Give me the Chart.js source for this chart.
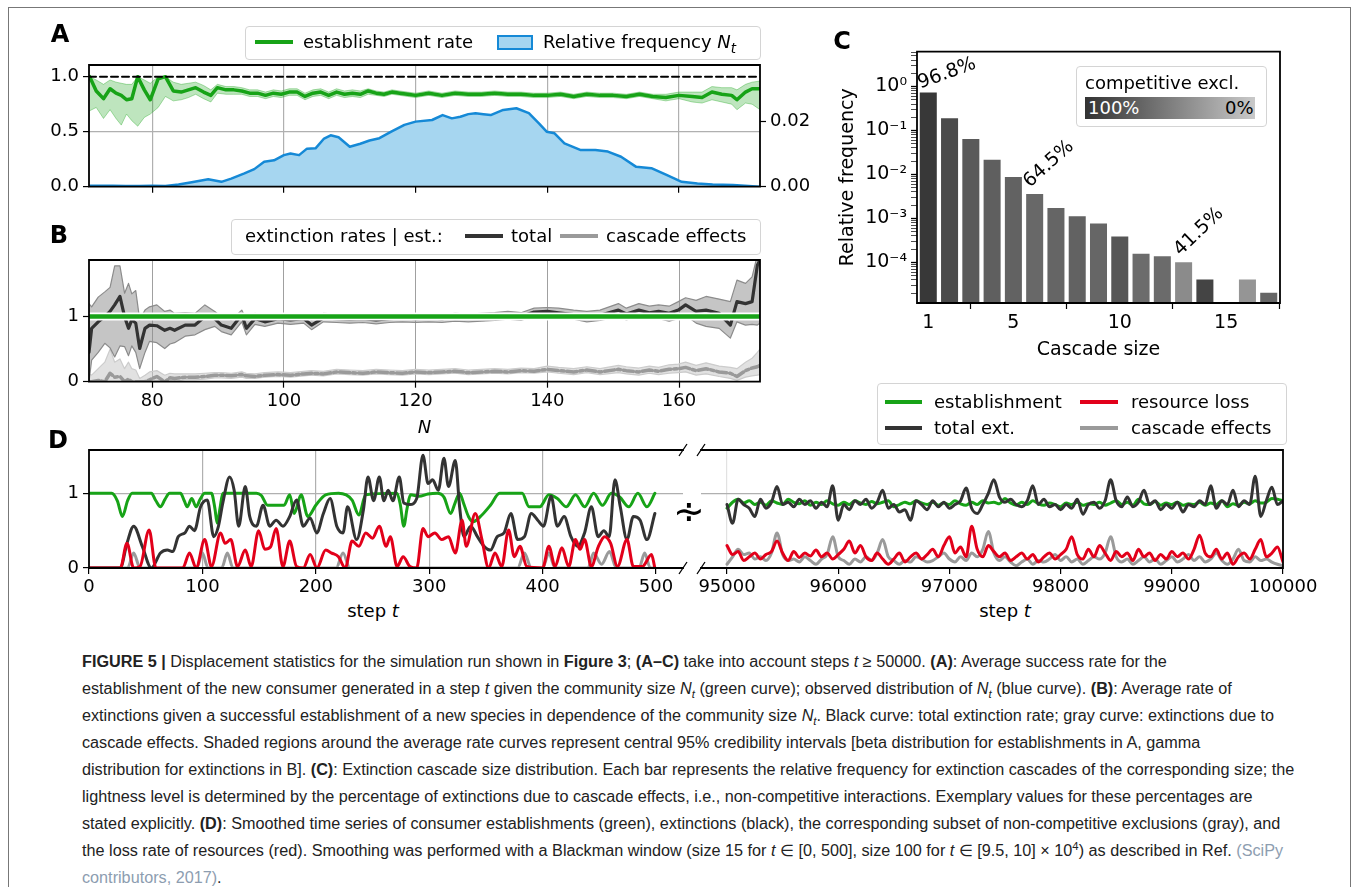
<!DOCTYPE html>
<html>
<head>
<meta charset="utf-8">
<title>Figure 5</title>
<script src="https://cdn.jsdelivr.net/npm/chart.js@4.4.1/dist/chart.umd.min.js"></script>
<style>
  html, body { margin: 0; padding: 0; background: #fff; }
  body { position: relative; width: 1355px; height: 887px; overflow: hidden; font-family: "DejaVu Sans", sans-serif; color: #000; }
  canvas { position: absolute; }
  .frame { position: absolute; left: 8px; top: 7px; width: 1341px; height: 900px; border: 1px solid #777; }
  .abs { position: absolute; white-space: nowrap; transform: translate(-50%, -50%); z-index: 3; }
  .tag { font-weight: bold; font-size: 24px; line-height: 24px; }
  .lg { position: absolute; border: 1px solid #d4d4d4; border-radius: 4px; background: rgba(255,255,255,0.85); z-index: 2; }
  .lg-txt { position: absolute; font-size: 18px; line-height: 22px; white-space: nowrap; z-index: 3; }
  .lg-line { position: absolute; z-index: 3; }
  #caption { position: absolute; left: 82px; top: 648px; font-family: "Liberation Sans", Arial, sans-serif; font-size: 16px; line-height: 27px; color: #222; }
  #caption div { white-space: nowrap; width: max-content; }
  #caption sub, #caption sup { font-size: 0.7em; line-height: 0; }
  .ref { color: #8d9db0; }
</style>
</head>
<body>
<div class="frame"></div>

<div id="caption">
<div><b>FIGURE 5 |</b> Displacement statistics for the simulation run shown in <b>Figure 3</b>; <b>(A–C)</b> take into account steps <i>t</i> ≥ 50000. <b>(A)</b>: Average success rate for the</div>
<div>establishment of the new consumer generated in a step <i>t</i> given the community size <i>N<sub>t</sub></i> (green curve); observed distribution of <i>N<sub>t</sub></i> (blue curve). <b>(B)</b>: Average rate of</div>
<div>extinctions given a successful establishment of a new species in dependence of the community size <i>N<sub>t</sub></i>. Black curve: total extinction rate; gray curve: extinctions due to</div>
<div>cascade effects. Shaded regions around the average rate curves represent central 95% credibility intervals [beta distribution for establishments in A, gamma</div>
<div>distribution for extinctions in B]. <b>(C)</b>: Extinction cascade size distribution. Each bar represents the relative frequency for extinction cascades of the corresponding size; the</div>
<div>lightness level is determined by the percentage of extinctions due to cascade effects, i.e., non-competitive interactions. Exemplary values for these percentages are</div>
<div>stated explicitly. <b>(D)</b>: Smoothed time series of consumer establishments (green), extinctions (black), the corresponding subset of non-competitive exclusions (gray), and</div>
<div>the loss rate of resources (red). Smoothing was performed with a Blackman window (size 15 for <i>t</i> ∈ [0, 500], size 100 for <i>t</i> ∈ [9.5, 10] × 10<sup>4</sup>) as described in Ref. <span class="ref">(SciPy</span></div>
<div><span class="ref">contributors, 2017)</span>.</div>
</div>

<script>
// ---------------- data ----------------

// panels A and B: community size N
const nMin = 70.4, nMax = 172.3;
const nTicks = [80, 100, 120, 140, 160];

// A: establishment rate (green) with 95% band
const estN = [70.5,71.5,72.6,73.6,74.5,75.3,76.1,76.9,77.8,78.8,
  79.7,80.9,82.0,83.2,84.4,85.5,86.6,87.8,88.9,89.9,
  91.2,92.4,93.6,94.8,96.0,97.2,98.4,99.6,100.8,102.0,
  103.2,104.4,105.6,106.8,108.0,109.2,110.4,111.6,112.8,114.0,
  115.2,116.4,117.6,118.8,120,122,124,126,128,130,
  132,134,136,138,140,142,144,146,148,150,
  152,154,156,158,160,162,163.5,165,166.5,168,
  168.8,170.1,171.1,172.3];
const estRate = [1.0,0.87,0.80,0.89,0.85,0.83,0.79,0.80,1.0,0.88,
  0.79,0.98,1.0,0.87,0.86,0.88,0.90,0.86,0.83,0.90,
  0.88,0.88,0.87,0.85,0.85,0.83,0.85,0.84,0.86,0.86,
  0.82,0.85,0.86,0.83,0.86,0.84,0.85,0.84,0.87,0.85,
  0.84,0.86,0.85,0.84,0.83,0.85,0.83,0.85,0.84,0.84,
  0.85,0.84,0.84,0.83,0.83,0.84,0.82,0.84,0.83,0.83,
  0.82,0.84,0.82,0.81,0.83,0.82,0.81,0.86,0.84,0.83,
  0.79,0.86,0.89,0.89];
const estHi = [1.0,0.97,0.93,0.97,0.95,0.94,0.93,0.93,1.0,0.97,
  0.94,1.0,1.0,0.95,0.93,0.94,0.95,0.92,0.88,0.93,
  0.91,0.91,0.90,0.88,0.88,0.86,0.88,0.87,0.89,0.89,
  0.85,0.88,0.89,0.86,0.89,0.87,0.88,0.87,0.89,0.87,
  0.86,0.88,0.87,0.86,0.85,0.87,0.85,0.87,0.86,0.86,
  0.87,0.86,0.86,0.85,0.85,0.86,0.84,0.86,0.85,0.85,
  0.84,0.86,0.84,0.84,0.86,0.86,0.86,0.91,0.90,0.90,
  0.88,0.93,0.95,0.96];
const estLo = [0.69,0.72,0.62,0.70,0.62,0.56,0.66,0.60,0.55,0.63,
  0.66,0.72,0.82,0.78,0.79,0.81,0.84,0.80,0.77,0.85,
  0.84,0.84,0.84,0.82,0.82,0.80,0.82,0.81,0.83,0.83,
  0.79,0.82,0.83,0.80,0.83,0.81,0.82,0.81,0.84,0.83,
  0.82,0.84,0.83,0.82,0.81,0.83,0.81,0.83,0.82,0.82,
  0.83,0.82,0.82,0.81,0.81,0.82,0.80,0.82,0.81,0.81,
  0.80,0.82,0.80,0.78,0.80,0.77,0.76,0.79,0.77,0.75,
  0.70,0.76,0.75,0.70];

// A: relative frequency of N_t (blue, right axis)
const freqN = [70.5,72,74,76,78,80,82,84,86,88.5,
  90.5,92,94,95.5,97,98.5,100,101,102.3,103.5,
  104.8,106.1,107.1,108.3,110,111.6,113,114.5,116.3,118.3,
  120,122.5,124.1,125.5,126.8,128,129.1,130.3,131.4,133.3,
  135.3,137.2,138.8,139.9,141.1,142.6,145,147.3,149.2,151.2,
  153.5,155.8,158.1,160.4,162.8,165.1,168.2,170,172.3];
const freqNt = [0.0003,0.0003,0.0003,0.0002,0.0002,0.0003,0.0002,0.0007,0.0014,0.0023,
  0.0015,0.0025,0.0041,0.0054,0.0077,0.0081,0.0097,0.0102,0.0097,0.0117,
  0.0118,0.0148,0.0158,0.0152,0.0123,0.0132,0.0142,0.0149,0.0169,0.0190,
  0.0200,0.0205,0.0220,0.0210,0.0215,0.0223,0.0226,0.0223,0.0220,0.0236,
  0.0241,0.0226,0.0193,0.0169,0.0164,0.0133,0.0113,0.0113,0.0108,0.0092,
  0.0061,0.0057,0.0036,0.0015,0.0010,0.0007,0.0005,0.0003,0.0000];

// B: extinction rates given establishment
const extN = [70.4,70.8,71.8,72.8,73.6,74.3,75.1,75.8,76.4,76.9,
  77.5,78.1,78.9,79.6,80.7,81.9,82.7,83.4,85.0,86.5,
  88.0,89.5,90.5,92.0,93.6,94.3,95.6,97.1,99.1,101,
  103,104.2,106,108,110,112,114,116,118,120,
  122,124,126,128,130,132,134,136,138,140,
  141.7,144,146,148,150.8,152,153.9,155.5,156.9,158.5,
  159.9,161.0,162.6,164.1,166.1,167.8,168.8,170.1,171.1,171.9,
  172.3];
const extTotal = [0.45,0.82,0.92,1.0,1.08,1.18,1.31,1.0,0.82,0.95,
  0.9,0.51,0.82,0.87,0.86,0.79,0.82,0.79,0.87,0.87,
  1.0,0.97,0.87,0.82,1.03,0.82,0.97,0.92,0.97,0.95,
  0.97,0.87,0.98,0.97,0.96,0.97,0.95,0.97,0.98,0.97,
  0.98,0.97,0.99,0.98,0.99,1.0,1.02,1.0,1.07,1.08,
  1.06,1.03,1.0,1.02,1.1,1.04,1.1,1.06,1.08,1.05,
  1.1,1.18,1.08,1.1,1.05,0.87,1.23,1.2,1.23,1.79,
  1.87];
const extTotalHi = [1.2,1.15,1.3,1.38,1.45,1.78,1.78,1.36,1.51,1.35,
  1.4,0.95,1.1,1.15,1.18,1.08,1.1,1.05,1.06,1.05,
  1.18,1.08,1.0,0.95,1.1,0.95,1.05,1.0,1.04,1.02,
  1.04,0.95,1.05,1.04,1.03,1.04,1.02,1.04,1.04,1.03,
  1.04,1.03,1.05,1.04,1.05,1.06,1.08,1.06,1.13,1.14,
  1.13,1.1,1.08,1.1,1.2,1.13,1.2,1.16,1.18,1.16,
  1.23,1.29,1.25,1.31,1.27,1.23,1.56,1.51,1.61,1.95,
  1.97];
const extTotalLo = [0.0,0.33,0.45,0.59,0.52,0.38,0.55,0.54,0.4,0.55,
  0.45,0.2,0.45,0.62,0.6,0.51,0.58,0.6,0.7,0.72,
  0.8,0.85,0.77,0.72,0.92,0.72,0.88,0.85,0.9,0.88,
  0.9,0.8,0.92,0.91,0.9,0.91,0.89,0.91,0.92,0.91,
  0.92,0.91,0.93,0.92,0.93,0.94,0.96,0.94,1.01,1.02,
  0.99,0.96,0.92,0.94,1.0,0.95,1.0,0.96,0.97,0.93,
  0.97,1.02,0.9,0.85,0.82,0.67,0.92,0.87,0.88,0.87,
  0.9];
const extCasc = [0.0,0.0,0.02,0.0,0.13,0.07,0.08,0.0,0.04,0.0,
  0.0,0.0,0.0,0.03,0.08,0.0,0.06,0.05,0.07,0.07,
  0.08,0.1,0.1,0.09,0.11,0.09,0.08,0.1,0.11,0.1,
  0.12,0.13,0.12,0.15,0.14,0.13,0.15,0.14,0.13,0.15,
  0.14,0.15,0.16,0.14,0.15,0.16,0.15,0.17,0.16,0.19,
  0.17,0.15,0.18,0.15,0.19,0.17,0.15,0.18,0.16,0.19,
  0.2,0.22,0.17,0.2,0.15,0.13,0.08,0.17,0.21,0.23,
  0.25];
const extCascHi = [0.12,0.1,0.2,0.3,0.5,0.3,0.35,0.2,0.3,0.2,
  0.18,0.05,0.1,0.15,0.17,0.1,0.13,0.12,0.12,0.12,
  0.13,0.14,0.14,0.13,0.15,0.13,0.12,0.14,0.15,0.14,
  0.16,0.17,0.16,0.19,0.18,0.17,0.19,0.18,0.17,0.19,
  0.18,0.19,0.2,0.18,0.19,0.2,0.19,0.21,0.2,0.24,
  0.22,0.2,0.23,0.2,0.25,0.23,0.21,0.24,0.22,0.26,
  0.27,0.3,0.25,0.29,0.24,0.22,0.2,0.3,0.36,0.45,
  0.5];
const extCascLo = [0,0,0,0,0,0,0,0,0,0,
  0,0,0,0,0.02,0,0.02,0.01,0.03,0.03,
  0.04,0.06,0.06,0.05,0.07,0.05,0.05,0.07,0.08,0.07,
  0.09,0.1,0.09,0.12,0.11,0.1,0.12,0.11,0.1,0.12,
  0.11,0.12,0.13,0.11,0.12,0.13,0.12,0.14,0.13,0.15,
  0.13,0.11,0.14,0.11,0.14,0.12,0.1,0.13,0.11,0.13,
  0.14,0.15,0.1,0.12,0.08,0.05,0.02,0.07,0.09,0.1,
  0.11];

// C: cascade size distribution
const cascadeSize = [1,2,3,4,5,6,7,8,9,10,11,12,13,14,15,16,17];
const cascadeFreq = [0.73,0.19,0.064,0.0216,0.0087,0.0036,0.00173,0.00112,0.00077,0.00039,
  0.000158,0.000137,0.0001,0.000041,null,0.000041,0.0000204];
const compExcl = [96.8,84,74,71,69,64.5,67,69,66,77,62,63,41.5,89,null,35,66]; // % competitive exclusions
const noteBars = [1, 6, 13];
const noteText = ['96.8%', '64.5%', '41.5%'];
const cMin = 1.19e-5, cMax = 6.2;
const cTicks = [1, 5, 10, 15];

// D: smoothed time series, early window
const earlyTicks = [0, 100, 200, 300, 400, 500];
const earlyEstT = [0,20,25,29.5,34,38,55,59,63,67,71,80.7,84,86.6,90.6,94.5,98,102,108,111,
  113,115.5,118,147.6,152,157.5,165,172,177,181,187,193,200,208.7,220,232,238,244,271.6,274.5,
  277.6,280.5,283.5,291,299,307,313,318.9,323,326.8,330.7,334.6,338.6,346.5,354,362,382,388,397.6,405.5,
  413,421,429,437,445,452.8,460.6,468,476,484,492,499];
const earlyEst = [1,1,0.9,0.69,0.9,1,1,0.9,0.82,0.92,1,1,0.9,0.82,0.93,0.82,0.92,1,1,0.8,
  0.6,0.8,1,1,0.97,0.84,0.84,0.84,0.98,0.73,0.98,0.69,0.84,0.98,1,0.91,0.71,0.98,1,0.85,
  0.56,0.8,0.98,0.96,0.99,1,0.95,0.73,0.88,1,0.85,0.69,0.62,0.71,0.84,1,1,0.82,0.82,0.98,
  0.93,0.82,0.98,0.82,1,0.84,1,0.95,0.82,1,0.82,1];
const earlyExtT = [0,27.6,33.5,39.4,47,55,63,69,74,78.7,84.6,88.6,93,98.4,104.3,110,114,118,124,128,
  132,137.8,141.7,147.6,153.5,159.4,165,171,177,183,189,195,200.8,206.7,212.6,218.5,224,228,236,242,
  246,251,256,260,263.8,268,273.6,277.6,283,289,294.5,299,303,308,313,317,323,326.8,330.7,336.6,
  342.5,348.4,354,360,366,372,378,384,390,395.7,400.8,407.5,413,419,425,431,437,443,449,454,
  458.7,463.8,468.5,474.4,480,486,492,499];
const earlyExt = [0,0,0.33,0.56,0.29,0,0.2,0.24,0.22,0.42,0.47,0.56,0.5,0.82,0.91,0.42,0.55,0.87,1.22,1.04,
  0.56,1.09,0.69,0.56,0.84,0.56,0.64,0.56,0.69,0.91,0.56,0.67,0.47,0.73,0.93,0.56,0.47,0.82,0.38,0.78,
  1.22,0.9,1.22,0.9,1.04,0.9,1.22,0.87,0.85,0.93,1.51,1.13,1.18,1.04,1.47,1.09,1.44,0.82,0.42,0.56,
  0.42,0.29,0.24,0.42,0.47,0.73,0.38,0.42,0.73,0.64,0.56,0.96,0.56,0.69,0.42,0.29,0.47,0.82,0.42,0.5,
  0.42,1.18,0.82,0.38,0.69,0.64,0.38,0.73];
const earlyLossT = [0,27.6,33.5,39.4,45,53,59,82.7,88.6,94.5,102,108,116,120,125,131,137.8,143,149.6,155,
  160,165,171,177,183,189,195,201,208.7,214,220,226,232,238,244,250,256,262,265.7,271.7,
  277,283,289,294.5,299,305,311,317,323,329,332.7,340.6,346.5,352.4,358,364,370,375,380,386,
  400,405.5,411,417,423,429,433,437,443,449,454.7,460,466,474.4,480,488,496,499];
const earlyLoss = [0,0,0.33,0,0.02,0.51,0,0,0.2,0,0.38,0.02,0.47,0.33,0.38,0.02,0.24,0.02,0.5,0.25,
  0.28,0.53,0.02,0.36,0.02,0,0.18,0,0.24,0.2,0.15,0,0.36,0.29,0.47,0.4,0.56,0.29,0.42,0.02,
  0.15,0.02,0,0.53,0.42,0.47,0.38,0.42,0.2,0.64,0.29,0.73,0.38,0,0.2,0.02,0.51,0.15,0.29,0.02,
  0,0.29,0.02,0.27,0.02,0.38,0.25,0.38,0.02,0.28,0.42,0.33,0.02,0.38,0.02,0.02,0.18,0];
const earlyCascT = [0,34,39.4,45,95,100,105,117,122,127,218,224,230,378,384,390,400,405.5,411,440,
  445,452,459,465,485,490,495,499];
const earlyCasc = [0,0,0.2,0,0,0.2,0,0,0.2,0,0,0.2,0,0,0.2,0,0,0.2,0,0,
  0.2,0.05,0.22,0,0,0.2,0,0];

// D: late window
const lateTicks = [95000, 96000, 97000, 98000, 99000, 100000];
const lateT = [95000,95050,95100,95150,95200,95250,95300,95350,95400,95450,
  95500,95550,95600,95650,95700,95750,95800,95850,95900,95950,
  96000,96050,96100,96150,96200,96250,96300,96350,96400,96450,
  96500,96550,96600,96650,96700,96750,96800,96850,96900,96950,
  97000,97050,97100,97150,97200,97250,97300,97350,97400,97450,
  97500,97550,97600,97650,97700,97750,97800,97850,97900,97950,
  98000,98050,98100,98150,98200,98250,98300,98350,98400,98450,
  98500,98550,98600,98650,98700,98750,98800,98850,98900,98950,
  99000,99050,99100,99150,99200,99250,99300,99350,99400,99450,
  99500,99550,99600,99650,99700,99750,99800,99850,99900,99950,
  100000];
const lateEst = [0.8,0.88,0.92,0.87,0.9,0.85,0.88,0.84,0.9,0.87,
  0.85,0.92,0.88,0.86,0.9,0.84,0.88,0.85,0.9,0.86,
  0.84,0.88,0.85,0.9,0.87,0.85,0.89,0.86,0.88,0.9,
  0.82,0.85,0.88,0.86,0.9,0.87,0.85,0.88,0.84,0.87,
  0.85,0.9,0.86,0.84,0.88,0.85,0.9,0.87,0.88,0.86,
  0.93,0.87,0.84,0.88,0.85,0.9,0.86,0.84,0.87,0.85,
  0.82,0.87,0.85,0.88,0.84,0.86,0.85,0.88,0.84,0.87,
  0.9,0.85,0.88,0.84,0.92,0.86,0.85,0.89,0.84,0.87,
  0.85,0.88,0.84,0.86,0.85,0.88,0.84,0.87,0.85,0.9,
  0.82,0.86,0.84,0.88,0.86,0.9,0.87,0.88,0.93,0.92,
  0.9];
const lateExt = [0.85,0.6,0.92,0.85,0.8,0.69,0.92,0.8,0.88,1.09,
  0.85,0.88,0.82,0.92,0.85,0.9,0.8,0.88,0.82,1.1,
  0.64,0.85,0.78,0.9,0.85,0.92,0.8,0.88,1.04,0.8,
  0.85,0.75,0.78,0.64,0.9,0.85,0.78,0.9,0.82,0.88,
  0.8,0.85,0.9,1.07,0.8,0.73,0.85,1.0,1.18,0.95,
  0.88,0.92,0.85,0.82,0.9,1.1,0.85,0.92,0.82,0.85,
  0.78,0.85,0.8,0.92,0.72,0.85,0.88,0.8,0.9,1.18,
  0.9,0.82,0.95,0.82,0.88,1.04,0.85,0.9,0.78,0.85,
  0.8,0.88,0.75,0.85,0.82,0.9,0.85,1.1,0.8,0.9,
  0.85,1.04,0.82,0.9,0.85,1.23,0.69,0.9,1.08,0.85,
  0.9];
const lateLoss = [0.3,0.18,0.22,0.1,0.15,0.2,0.12,0.18,0.22,0.36,
  0.2,0.1,0.22,0.14,0.2,0.16,0.24,0.15,0.2,0.12,
  0.18,0.25,0.36,0.2,0.3,0.15,0.1,0.2,0.12,0.05,
  0.12,0.2,0.08,0.15,0.2,0.12,0.18,0.25,0.15,0.3,
  0.42,0.2,0.28,0.15,0.56,0.25,0.15,0.3,0.22,0.15,
  0.2,0.1,0.15,0.2,0.12,0.18,0.08,0.15,0.2,0.12,
  0.18,0.25,0.42,0.18,0.12,0.25,0.15,0.3,0.2,0.1,
  0.22,0.15,0.2,0.1,0.25,0.15,0.2,0.1,0.18,0.12,
  0.22,0.15,0.2,0.12,0.25,0.44,0.2,0.15,0.25,0.12,
  0.2,0.05,0.15,0.2,0.12,0.25,0.38,0.15,0.2,0.28,
  0.08];
const lateCasc = [0.05,0.15,0.25,0.18,0.2,0.12,0.15,0.1,0.2,0.47,
  0.18,0.1,0.12,0.08,0.15,0.1,0.05,0.12,0.18,0.42,
  0.15,0.1,0.05,0.12,0.08,0.15,0.1,0.2,0.38,0.15,
  0.1,0.05,0.1,0.08,0.15,0.12,0.08,0.1,0.15,0.2,
  0.12,0.08,0.15,0.1,0.2,0.15,0.25,0.49,0.2,0.1,
  0.15,0.08,0.03,0.08,0.12,0.05,0.1,0.08,0.12,0.18,
  0.1,0.15,0.08,0.12,0.05,0.1,0.15,0.12,0.2,0.42,
  0.15,0.08,0.12,0.05,0.1,0.15,0.08,0.12,0.05,0.1,
  0.15,0.08,0.12,0.18,0.1,0.15,0.08,0.12,0.2,0.1,
  0.05,0.12,0.25,0.1,0.08,0.15,0.1,0.12,0.08,0.05,
  0.03];

// ---------------- styling / helpers ----------------
const GREEN = '#17a317', BLUE_LINE = '#1589d6', BLUE_FILL = '#a6d6f0';
const DARK = '#333333', GREY = '#9a9a9a', RED = '#e2001a';

Chart.defaults.font.family = "'DejaVu Sans', sans-serif";
Chart.defaults.font.size = 18;
Chart.defaults.color = '#000';

const xy = (xs, ys) => xs.map((x, i) => ({ x: x, y: ys[i] }));
const setTicks = vals => s => { s.ticks = vals.map(v => ({ value: v })); };
const fixW = w => s => { s.width = w; };
const fixH = h => s => { s.height = h; };

function place(b) {
  const c = document.createElement('canvas');
  c.width = b.w; c.height = b.h;
  c.style.left = b.x + 'px'; c.style.top = b.y + 'px';
  c.style.width = b.w + 'px'; c.style.height = b.h + 'px';
  document.body.appendChild(c);
  return c;
}

function baseOptions(extra) {
  const o = {
    responsive: false, animation: false, devicePixelRatio: 1, events: [],
    elements: { point: { radius: 0 }, line: { borderJoinStyle: 'round', borderCapStyle: 'round' } }
  };
  Object.assign(o, extra);
  o.plugins = Object.assign({ legend: { display: false }, tooltip: { enabled: false } }, extra.plugins || {});
  return o;
}

// black frame around the plot area, optional break marks
const framePlugin = {
  id: 'frame',
  afterDatasetsDraw(chart, args, o) {
    const a = chart.chartArea, ctx = chart.ctx, s = o.sides || 'ltrb';
    ctx.save();
    ctx.strokeStyle = '#000'; ctx.lineWidth = 1.8; ctx.lineCap = 'square';
    ctx.beginPath();
    if (s.includes('l')) { ctx.moveTo(a.left, a.top); ctx.lineTo(a.left, a.bottom); }
    if (s.includes('r')) { ctx.moveTo(a.right, a.top); ctx.lineTo(a.right, a.bottom); }
    if (s.includes('t')) { ctx.moveTo(a.left, a.top); ctx.lineTo(a.right, a.top); }
    if (s.includes('b')) { ctx.moveTo(a.left, a.bottom); ctx.lineTo(a.right, a.bottom); }
    ctx.stroke();
    if (o.breakAt) {
      const x = o.breakAt === 'right' ? a.right : a.left;
      ctx.lineWidth = 1.3; ctx.lineCap = 'butt';
      ctx.beginPath();
      [a.top, a.bottom].forEach(y => { ctx.moveTo(x - 4, y + 6); ctx.lineTo(x + 4, y - 6); });
      ctx.stroke();
    }
    ctx.restore();
  }
};
Chart.register(framePlugin);

const tickStyle = { tickColor: '#000', tickLength: 6, tickWidth: 1.2 };

// ---------------- panel A ----------------
const boxA = { x: 0, y: 47, w: 830, h: 158 };
new Chart(place(boxA), {
  type: 'line',
  data: { datasets: [
    { data: xy([nMin, nMax], [1, 1]), borderColor: '#000', borderWidth: 2, borderDash: [7, 4], yAxisID: 'y' },
    { data: xy(estN, estRate), borderColor: GREEN, borderWidth: 3.5, yAxisID: 'y' },
    { data: xy(estN, estHi), borderColor: 'rgba(23,163,23,0.35)', borderWidth: 1, backgroundColor: 'rgba(23,163,23,0.28)', fill: '+1', yAxisID: 'y' },
    { data: xy(estN, estLo), borderColor: 'rgba(23,163,23,0.35)', borderWidth: 1, yAxisID: 'y' },
    { data: xy(freqN, freqNt), borderColor: BLUE_LINE, borderWidth: 2.5, backgroundColor: BLUE_FILL, fill: 'origin', yAxisID: 'y2' }
  ] },
  options: baseOptions({
    layout: { padding: { top: 18 } },
    scales: {
      x: { type: 'linear', min: nMin, max: nMax, afterBuildTicks: setTicks(nTicks),
           ticks: { display: false }, border: { display: false },
           grid: Object.assign({ color: '#b0b0b0', lineWidth: 1.2 }, tickStyle), afterFit: fixH(18.3) },
      y: { min: 0, max: 1.106, afterBuildTicks: setTicks([0, 0.5, 1]),
           ticks: { callback: v => v.toFixed(1), padding: 4 }, border: { display: false },
           grid: Object.assign({ color: c => (c.tick && c.tick.value === 0.5) ? '#b0b0b0' : 'transparent', lineWidth: 1.2 }, tickStyle),
           afterFit: fixW(89) },
      y2: { position: 'right', min: 0, max: 0.0374, afterBuildTicks: setTicks([0, 0.02]),
            ticks: { callback: v => v.toFixed(2), padding: 4 }, border: { display: false },
            grid: Object.assign({ drawOnChartArea: false }, tickStyle), afterFit: fixW(70) }
    }
  })
});

// ---------------- panel B ----------------
const boxB = { x: 0, y: 242, w: 800, h: 197 };
new Chart(place(boxB), {
  type: 'line',
  data: { datasets: [
    { data: xy([nMin, nMax], [1, 1]), borderColor: GREEN, borderWidth: 4.5 },
    { data: xy([nMin, nMax], [1, 1]), borderColor: '#fff', borderWidth: 8 },
    { data: xy(extN, extTotal), borderColor: DARK, borderWidth: 3.2 },
    { data: xy(extN, extCasc), borderColor: GREY, borderWidth: 3.5, borderDash: [10, 3, 3, 3] },
    { data: xy(extN, extTotalHi), borderColor: '#8c8c8c', borderWidth: 1.2, backgroundColor: 'rgba(140,140,140,0.5)', fill: '+1' },
    { data: xy(extN, extTotalLo), borderColor: '#8c8c8c', borderWidth: 1.2 },
    { data: xy(extN, extCascHi), borderColor: '#cccccc', borderWidth: 1.2, backgroundColor: 'rgba(200,200,200,0.55)', fill: '+1' },
    { data: xy(extN, extCascLo), borderColor: '#cccccc', borderWidth: 1.2 }
  ] },
  options: baseOptions({
    layout: { padding: { top: 18, right: 40 } },
    scales: {
      x: { type: 'linear', min: nMin, max: nMax, afterBuildTicks: setTicks(nTicks),
           ticks: { padding: 3, maxRotation: 0 }, border: { display: false },
           grid: Object.assign({ color: '#a0a0a0', lineWidth: 1 }, tickStyle),
           title: { display: true, text: 'N', font: { style: 'italic', size: 18 }, padding: 0 },
           afterFit: fixH(57.3) },
      y: { min: 0, max: 1.87, afterBuildTicks: setTicks([0, 1]),
           ticks: { padding: 4 }, border: { display: false },
           grid: Object.assign({ drawOnChartArea: false }, tickStyle), afterFit: fixW(89) }
    }
  })
});

// ---------------- panel C ----------------
const SUP = { '-': '⁻', '0': '⁰', '1': '¹', '2': '²', '3': '³', '4': '⁴', '5': '⁵', '6': '⁶', '7': '⁷', '8': '⁸', '9': '⁹' };
const isDecade = v => Math.abs(Math.log10(v) - Math.round(Math.log10(v))) < 1e-9;
const decadeLabel = v => '10' + String(Math.round(Math.log10(v))).split('').map(ch => SUP[ch]).join('');
const logTicks = [];
for (let e = -5; e <= 0; e++) {
  for (let m = 1; m <= 9; m++) {
    const v = m * Math.pow(10, e);
    if (v >= cMin && v <= cMax) logTicks.push(v);
  }
}
const exclGray = p => { const g = Math.round(51 + (100 - p) * 1.5); return 'rgb(' + g + ',' + g + ',' + g + ')'; };

const notePlugin = {
  id: 'barNotes',
  afterDatasetsDraw(chart) {
    const ctx = chart.ctx, xs = chart.scales.x, ys = chart.scales.y;
    const angle = [-20, -42, -44], dx = [-8, -5, -3], dy = [-4, -6, -6];
    noteBars.forEach((b, i) => {
      const px = xs.getPixelForValue(b) + dx[i];
      const py = ys.getPixelForValue(cascadeFreq[b - 1]) + dy[i];
      ctx.save();
      ctx.translate(px, py);
      ctx.rotate(angle[i] * Math.PI / 180);
      ctx.font = "19px 'DejaVu Sans'";
      ctx.fillStyle = '#000';
      ctx.textBaseline = 'alphabetic';
      ctx.fillText(noteText[i], 0, 0);
      ctx.restore();
    });
  }
};

const boxC = { x: 837, y: 34, w: 473, h: 327 };
new Chart(place(boxC), {
  type: 'bar',
  data: { datasets: [{
    data: xy(cascadeSize, cascadeFreq),
    backgroundColor: compExcl.map(p => p == null ? 'transparent' : exclGray(p)),
    barPercentage: 0.8, categoryPercentage: 1
  }] },
  plugins: [notePlugin],
  options: baseOptions({
    layout: { padding: { top: 17.7, right: 30 } },
    scales: {
      x: { type: 'linear', offset: false, min: 0.47, max: 17.53, afterBuildTicks: setTicks(cTicks),
           ticks: { padding: 3, maxRotation: 0, font: { size: 19 } }, border: { display: false },
           grid: Object.assign({ drawOnChartArea: false }, tickStyle),
           title: { display: true, text: 'Cascade size', font: { size: 19 }, padding: 0 },
           afterFit: fixH(58) },
      y: { type: 'logarithmic', min: cMin, max: cMax, afterBuildTicks: setTicks(logTicks),
           ticks: { autoSkip: false, padding: 4, font: { size: 19 }, callback: v => isDecade(v) ? decadeLabel(v) : '' },
           border: { display: false },
           grid: { drawOnChartArea: false, tickColor: '#000', tickLength: 6,
                   tickWidth: c => (c.tick && isDecade(c.tick.value)) ? 1.3 : 0.7 },
           title: { display: true, text: 'Relative frequency', font: { size: 19 }, padding: 0 },
           afterFit: fixW(80) }
    }
  })
});

// ---------------- panel D ----------------
const lineDs = (xs, ys, color) => ({ data: xy(xs, ys), borderColor: color, borderWidth: 3, cubicInterpolationMode: 'monotone' });

const boxD1 = { x: 0, y: 432, w: 700, h: 166 };
new Chart(place(boxD1), {
  type: 'line',
  data: { datasets: [
    lineDs(earlyLossT, earlyLoss, RED),
    lineDs(earlyExtT, earlyExt, DARK),
    lineDs(earlyEstT, earlyEst, GREEN),
    lineDs(earlyCascT, earlyCasc, GREY)
  ] },
  options: baseOptions({
    layout: { padding: { top: 18, right: 17 } },
    plugins: { frame: { sides: 'ltb', breakAt: 'right' } },
    scales: {
      x: { type: 'linear', min: 0, max: 523.8, afterBuildTicks: setTicks(earlyTicks),
           ticks: { padding: 3, maxRotation: 0 }, border: { display: false },
           grid: Object.assign({ color: c => (c.tick && c.tick.value > 0 && c.tick.value < 500) ? '#b0b0b0' : 'transparent', lineWidth: 1.2 }, tickStyle),
           afterFit: fixH(30) },
      y: { min: 0, max: 1.58, afterBuildTicks: setTicks([0, 1]),
           ticks: { padding: 4 }, border: { display: false },
           grid: Object.assign({ color: c => (c.tick && c.tick.value === 1) ? '#b0b0b0' : 'transparent', lineWidth: 1.2 }, tickStyle),
           afterFit: fixW(89) }
    }
  })
});

const boxD2 = { x: 689, y: 432, w: 666, h: 166 };
new Chart(place(boxD2), {
  type: 'line',
  data: { datasets: [
    lineDs(lateT, lateLoss, RED),
    lineDs(lateT, lateCasc, GREY),
    lineDs(lateT, lateExt, DARK),
    lineDs(lateT, lateEst, GREEN)
  ] },
  options: baseOptions({
    layout: { padding: { top: 18, left: 12, right: 72 } },
    plugins: { frame: { sides: 'rtb', breakAt: 'left' } },
    scales: {
      x: { type: 'linear', min: 94766, max: 100000, afterBuildTicks: setTicks(lateTicks),
           ticks: { padding: 3, maxRotation: 0, callback: v => String(v) }, border: { display: false },
           grid: Object.assign({ color: c => (c.tick && c.tick.value === 95000) ? '#e2e2e2' : 'transparent', lineWidth: 1.2 }, tickStyle),
           afterFit: fixH(30) },
      y: { min: 0, max: 1.58, afterBuildTicks: setTicks([0, 1]),
           ticks: { display: false }, border: { display: false },
           grid: { drawTicks: false, color: c => (c.tick && c.tick.value === 1) ? '#b0b0b0' : 'transparent', lineWidth: 1.2 },
           afterFit: fixW(0) }
    }
  })
});

// ---------------- legends, labels ----------------
function addDiv(cls, style, html) {
  const d = document.createElement('div');
  d.className = cls;
  Object.assign(d.style, style);
  if (html) d.innerHTML = html;
  document.body.appendChild(d);
  return d;
}
function legendFrame(x0, y0, x1, y1) { addDiv('lg', { left: x0 + 'px', top: y0 + 'px', width: (x1 - x0) + 'px', height: (y1 - y0) + 'px' }); }
function legendLine(x0, x1, y, color, lw) { addDiv('lg-line', { left: x0 + 'px', top: (y - lw / 2) + 'px', width: (x1 - x0) + 'px', height: lw + 'px', background: color }); }
function legendText(x, y, html, size) { addDiv('lg-txt', { left: x + 'px', top: (y - 11) + 'px', fontSize: (size || 18) + 'px' }, html); }
function label(x, y, html, extra) { addDiv('abs', Object.assign({ left: x + 'px', top: y + 'px' }, extra || {}), html); }

// legend A
legendFrame(245, 26, 759, 58);
legendLine(255, 293, 42, GREEN, 4);
legendText(303, 42, 'establishment rate');
addDiv('lg-line', { left: '497px', top: '35px', width: '32px', height: '11px', background: BLUE_FILL, border: '2px solid ' + BLUE_LINE });
legendText(543, 42, 'Relative frequency <i>N<sub style="font-size:0.75em">t</sub></i>');

// legend B
legendFrame(231, 219, 759, 253);
legendText(245, 236, 'extinction rates | est.:');
legendLine(465, 503, 236, DARK, 4);
legendText(511, 236, 'total');
legendLine(560, 598, 236, GREY, 4);
legendText(606, 236, 'cascade effects');

// legend D
legendFrame(877, 383, 1285, 443);
legendLine(885, 922, 402, GREEN, 4);
legendText(934, 402, 'establishment');
legendLine(1080, 1118, 402, RED, 4);
legendText(1131, 402, 'resource loss');
legendLine(885, 922, 428, DARK, 4);
legendText(934, 428, 'total ext.');
legendLine(1080, 1118, 428, GREY, 4);
legendText(1131, 428, 'cascade effects');

// colour key C
legendFrame(1076, 66, 1265, 125);
legendText(1085, 83, 'competitive excl.');
addDiv('lg-line', { left: '1085px', top: '97px', width: '170px', height: '22px', background: 'linear-gradient(to right, ' + exclGray(100) + ', ' + exclGray(0) + ')' });
legendText(1088, 108, '<span style="color:#fff">100%</span>');
legendText(1225, 108, '0%');

// panel tags and axis captions
label(60, 34, 'A', { fontWeight: 'bold', fontSize: '24px' });
label(59, 235, 'B', { fontWeight: 'bold', fontSize: '24px' });
label(842, 41, 'C', { fontWeight: 'bold', fontSize: '24px' });
label(58, 440, 'D', { fontWeight: 'bold', fontSize: '24px' });
label(373, 610, 'step <i>t</i>', { fontSize: '18px' });
label(1005, 610, 'step <i>t</i>', { fontSize: '18px' });
label(689, 511, '∻', { fontSize: '38px' });

// caption: fit the longest line to the text column
const cap = document.getElementById('caption');
const capLines = Array.from(cap.children);
const widest = Math.max.apply(null, capLines.slice(0, -1).map(l => l.getBoundingClientRect().width));
cap.style.fontSize = (16 * 1213 / widest) + 'px';
</script>
</body>
</html>
